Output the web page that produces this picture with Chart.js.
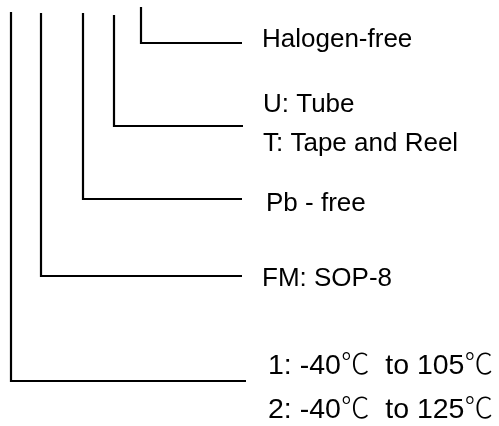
<!DOCTYPE html>
<html>
<head>
<meta charset="utf-8">
<script src="https://cdn.jsdelivr.net/npm/chart.js@4.4.1/dist/chart.umd.min.js"></script>
<style>
  html, body { margin: 0; padding: 0; background: #ffffff; }
  #wrap { width: 499px; height: 426px; }
</style>
</head>
<body>
<div id="wrap"><canvas id="orderChart" width="499" height="426"></canvas></div>
<script>
// Ordering-code tree: each bracket is a stem coming down from the part number
// and turning right into a branch that points at its option text.
const stemX     = [141, 114, 83, 41, 11];
const stemTop   = [7, 15, 13, 13, 12];
const branchY   = [43, 126, 199, 276, 381];
const branchEnd = [242, 243, 242, 242, 246];

// Option text for every branch (one entry per line)
const optionText = [
  ['Halogen-free'],
  ['U: Tube', 'T: Tape and Reel'],
  ['Pb - free'],
  ['FM: SOP-8'],
  ['1: -40\u2103  to 105\u2103', '2: -40\u2103  to 125\u2103']
];
const textX = [262, 263, 266, 262, 268];
const textBaseline = [[47], [112, 151], [211], [286], [374, 418]];
const textSize = [26, 26, 26, 26, 28.5];

// Build line datasets from the bracket arrays
const datasets = stemX.map((x, i) => ({
  data: [
    { x: x, y: stemTop[i] },
    { x: x, y: branchY[i] },
    { x: branchEnd[i], y: branchY[i] }
  ],
  showLine: true,
  borderColor: '#000000',
  borderWidth: 2.2,
  borderJoinStyle: 'miter',
  pointRadius: 0,
  tension: 0
}));

// Draw the option labels next to each branch
const optionLabels = {
  id: 'optionLabels',
  afterDatasetsDraw(chart) {
    const ctx = chart.ctx;
    const xs = chart.scales.x;
    const ys = chart.scales.y;
    ctx.save();
    ctx.fillStyle = '#000000';
    ctx.textAlign = 'left';
    ctx.textBaseline = 'alphabetic';
    optionText.forEach((lines, i) => {
      ctx.font = '300 ' + textSize[i] + 'px "Liberation Sans", Arial, "Noto Sans CJK SC", sans-serif';
      lines.forEach((line, j) => {
        ctx.fillText(line, xs.getPixelForValue(textX[i]), ys.getPixelForValue(textBaseline[i][j]));
      });
    });
    ctx.restore();
  }
};

new Chart(document.getElementById('orderChart'), {
  type: 'scatter',
  data: { datasets: datasets },
  options: {
    responsive: false,
    animation: false,
    layout: { padding: 0 },
    plugins: {
      legend: { display: false },
      tooltip: { enabled: false }
    },
    scales: {
      x: { type: 'linear', min: 0, max: 499, display: false },
      y: { type: 'linear', min: 0, max: 426, reverse: true, display: false }
    }
  },
  plugins: [optionLabels]
});
</script>
</body>
</html>
